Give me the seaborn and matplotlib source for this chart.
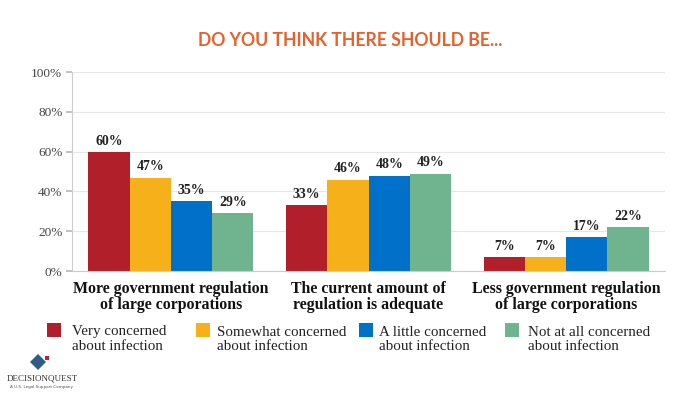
import matplotlib
matplotlib.use("Agg")
import matplotlib.pyplot as plt
import seaborn as sns
import pandas as pd
from matplotlib.patches import Rectangle, Polygon

categories = ["More government regulation\nof large corporations",
              "The current amount of\nregulation is adequate",
              "Less government regulation\nof large corporations"]
series = ["Very concerned\nabout infection", "Somewhat concerned\nabout infection",
          "A little concerned\nabout infection", "Not at all concerned\nabout infection"]
very = [60, 33, 7]
somewhat = [47, 46, 7]
little = [35, 48, 17]
notatall = [29, 49, 22]
colors = ["#B01F2A", "#F6B01A", "#0070C8", "#6FB38F"]
yticks = [0, 20, 40, 60, 80, 100]

rows = []
for s, vals in zip(series, [very, somewhat, little, notatall]):
    for c, v in zip(categories, vals):
        rows.append({"cat": c, "series": s, "val": v})
df = pd.DataFrame(rows)

sns.set_theme(style="white")
plt.rcParams["font.family"] = ["Liberation Serif", "DejaVu Serif"]

W, H = 700, 394
fig = plt.figure(figsize=(7, 3.94), dpi=100)
ax = fig.add_axes([0.103, 0.312, 0.847, 0.505])
sns.barplot(data=df, x="cat", y="val", hue="series", palette=colors,
            order=categories, hue_order=series, width=0.835, ax=ax,
            legend=False, saturation=1, edgecolor="none")

for cont in ax.containers:
    ax.bar_label(cont, labels=[f"{int(v)}%" for v in cont.datavalues],
                 padding=3, fontsize=10, fontweight="bold", color="#222222")

ax.set_ylim(0, 100)
ax.set_xlim(-0.5, 2.5)
ax.set_yticks(yticks)
ax.set_yticklabels([f"{t}%" for t in yticks], fontsize=9.5, color="#444444")
ax.yaxis.grid(True, color="#E6E6E6", linewidth=0.8)
ax.set_axisbelow(True)
ax.tick_params(axis="y", left=True, length=4, color="#BBBBBB", pad=3)
ax.tick_params(axis="x", bottom=False, pad=1)
ax.set_xticks(range(3))
ax.set_xticklabels(categories, fontsize=11.4, fontweight="bold", color="#111111",
                   linespacing=1.0)
ax.set_xlabel("")
ax.set_ylabel("")
for sp in ["top", "right"]:
    ax.spines[sp].set_visible(False)
for sp in ["left", "bottom"]:
    ax.spines[sp].set_color("#CCCCCC")
    ax.spines[sp].set_linewidth(0.8)

# legend drawn manually
sq_x = [47, 196, 359, 505]
tx_x = [72, 217, 379, 528]
for c, s, sx, tx in zip(colors, series, sq_x, tx_x):
    fig.patches.append(Rectangle((sx / W, 1 - 337 / H), 14 / W, 14 / H,
                                 transform=fig.transFigure, facecolor=c,
                                 edgecolor="none"))
    fig.text(tx / W, 1 - 339 / H, s, ha="left", va="center", fontsize=10.8,
             color="#222222", linespacing=1.1)

fig.text(0.5, 1 - 40 / H, "DO YOU THINK THERE SHOULD BE...", ha="center",
         va="center", fontsize=12.7, fontweight="bold", color="#E8602C",
         family="Lato")

# logo
cx, cy, r = 38, 362, 8
diamond = [((cx) / W, 1 - (cy - r) / H), ((cx + r) / W, 1 - cy / H),
           ((cx) / W, 1 - (cy + r) / H), ((cx - r) / W, 1 - cy / H)]
fig.patches.append(Polygon(diamond, closed=True, transform=fig.transFigure,
                           facecolor="#2F5D8A", edgecolor="none"))
fig.patches.append(Rectangle((45 / W, 1 - 360 / H), 4 / W, 4 / H,
                             transform=fig.transFigure, facecolor="#C8202F",
                             edgecolor="none"))
fig.text(42 / W, 1 - 378 / H, "DECISIONQUEST", ha="center", va="center",
         fontsize=6.5, color="#333333", family="Liberation Serif")
fig.text(42 / W, 1 - 387 / H, "A U.S. Legal Support Company", ha="center",
         va="center", fontsize=3, color="#555555", family="DejaVu Sans")

fig.savefig("out.png", dpi=100)
